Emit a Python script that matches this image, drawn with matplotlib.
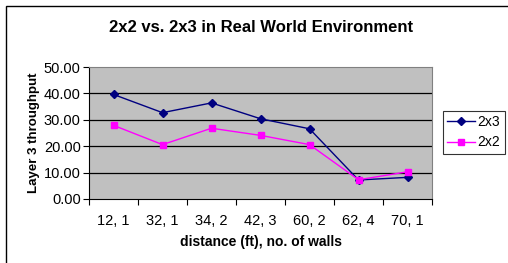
import matplotlib.pyplot as plt
from matplotlib.patches import Rectangle

categories = ["12, 1", "32, 1", "34, 2", "42, 3", "60, 2", "62, 4", "70, 1"]
s_2x3 = [39.6, 32.7, 36.4, 30.4, 26.6, 7.2, 8.2]
s_2x2 = [27.9, 20.6, 26.8, 24.1, 20.6, 7.3, 10.3]

plt.rcParams['font.family'] = ['Liberation Sans', 'DejaVu Sans']

fig = plt.figure(figsize=(5.08, 2.63), dpi=100)
W, H = 508, 263
ax = fig.add_axes([89 / W, 1 - 199 / H, (432 - 89) / W, (199 - 67) / H])

# outer chart frame (right/bottom edges cut off like the reference)
fig.add_artist(Rectangle((6 / W, -0.01), 1.1, 1 - 6 / H + 0.01,
                         transform=fig.transFigure, fill=False,
                         edgecolor='black', linewidth=1))

x = [i + 0.5 for i in range(len(categories))]
ax.set_facecolor('#c0c0c0')
for y in [10, 20, 30, 40]:
    ax.axhline(y, color='black', linewidth=0.9, zorder=1)

ax.plot(x, s_2x3, color='#000080', marker='D', markersize=4.5, linewidth=1,
        label='2x3', zorder=3)
ax.plot(x, s_2x2, color='#ff00ff', marker='s', markersize=5, linewidth=1,
        label='2x2', zorder=3)

ax.set_xlim(0, len(categories))
ax.set_ylim(0, 50)
ax.set_yticks([0, 10, 20, 30, 40, 50])
ax.set_yticklabels([f"{v:.2f}" for v in [0, 10, 20, 30, 40, 50]], fontsize=10.5)
ax.set_xticks(range(len(categories) + 1))
ax.set_xticklabels([])
ax.set_xticks(x, minor=True)
ax.set_xticklabels(categories, minor=True, fontsize=10.5)
ax.tick_params(axis='x', which='minor', length=0, pad=11)
ax.tick_params(axis='x', which='major', length=4, direction='out')
ax.tick_params(axis='y', length=4, direction='out', pad=2)

ax.spines['top'].set_color('#808080')
ax.spines['right'].set_color('#808080')
ax.spines['left'].set_color('black')
ax.spines['bottom'].set_color('black')

ax.set_xlabel("distance (ft), no. of walls", fontsize=10, fontweight='bold',
              labelpad=5)
ax.set_ylabel("Layer 3 throughput", fontsize=9.5, fontweight='bold', labelpad=3)
fig.text(261 / W, 1 - 27 / H, "2x2 vs. 2x3 in Real World Environment",
         ha='center', va='center', fontsize=12, fontweight='bold')

leg = fig.legend(loc='upper left', bbox_to_anchor=(443 / W, 1 - 111 / H),
                 fontsize=10, frameon=True, fancybox=False, edgecolor='black',
                 borderpad=0.3, handlelength=2.0, handletextpad=0.2,
                 labelspacing=0.45, borderaxespad=0)
leg.get_frame().set_linewidth(0.8)

fig.savefig("out.png", dpi=100)
